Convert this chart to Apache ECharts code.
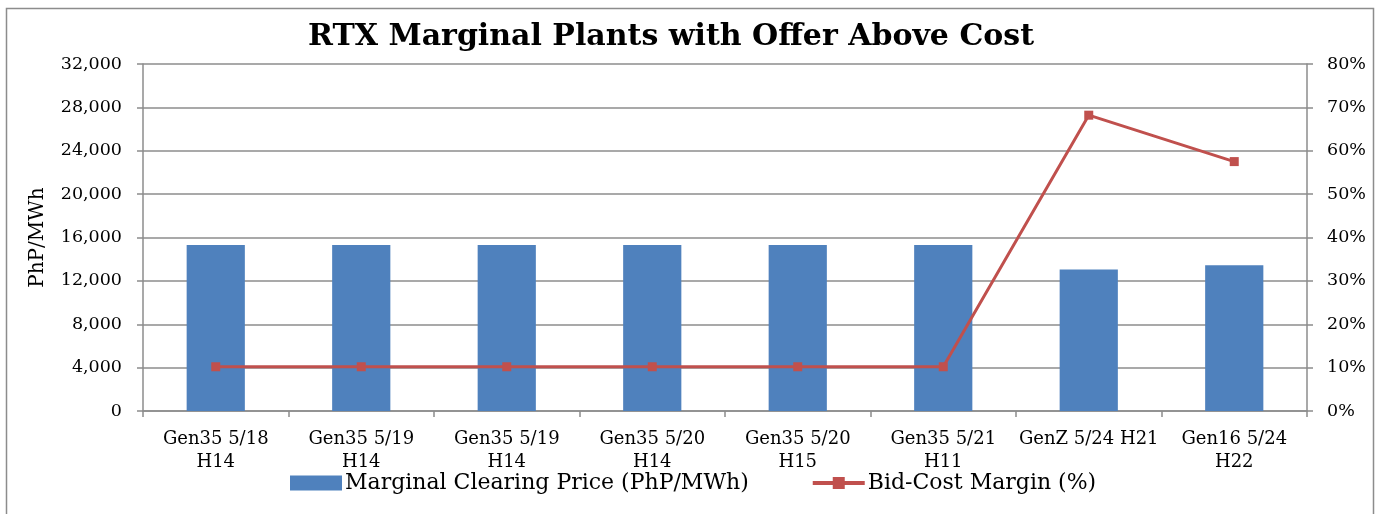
<!DOCTYPE html>
<html>
<head>
<meta charset="utf-8">
<script src="https://cdn.jsdelivr.net/npm/echarts@6/dist/echarts.min.js"></script>
<style>html,body{margin:0;padding:0;background:#fff}#c{width:1381px;height:514px}</style>
</head>
<body>
<div id="c"></div>
<script>
const categories = ['Gen35 5/18\nH14','Gen35 5/19\nH14','Gen35 5/19\nH14','Gen35 5/20\nH14','Gen35 5/20\nH15','Gen35 5/21\nH11','GenZ 5/24 H21','Gen16 5/24\nH22'];
const clearingPrice = [15300,15300,15300,15300,15300,15300,13050,13450];
const bidCostMargin = [10.2,10.2,10.2,10.2,10.2,10.2,68.2,57.5];
const leftTicks = [0,4000,8000,12000,16000,20000,24000,28000,32000];
const rightTicks = [0,10,20,30,40,50,60,70,80];

const FONT = 'DejaVu Serif';
const grayLine = '#8c8c8c';
const chart = echarts.init(document.getElementById('c'));
chart.setOption({
  animation:false,
  backgroundColor:'#fff',
  textStyle:{fontFamily:FONT,color:'#000'},
  graphic:[{type:'rect',shape:{x:6.5,y:8.5,width:1367,height:520},style:{fill:'none',stroke:grayLine,lineWidth:1.5},silent:true,z:-1}],
  title:{text:'RTX Marginal Plants with Offer Above Cost',left:666,textAlign:'center',top:17,
    textStyle:{fontFamily:FONT,fontWeight:'bold',fontSize:30,color:'#000'}},
  legend:{left:285,top:467,itemGap:62,itemWidth:52,itemHeight:15,
    textStyle:{fontFamily:FONT,fontSize:22,color:'#000',padding:[0,0,0,-2]},
    data:[{name:'Marginal Clearing Price (PhP/MWh)',icon:'rect'},
          {name:'Bid-Cost Margin (%)',lineStyle:{width:4},itemStyle:{}}]},
  grid:{left:143,right:74,top:64,bottom:103},
  xAxis:{type:'category',data:categories,boundaryGap:true,
    axisLine:{lineStyle:{color:grayLine,width:1.5}},
    axisTick:{show:true,length:6,lineStyle:{color:grayLine,width:1.5},alignWithLabel:false},
    axisLabel:{interval:0,fontFamily:FONT,fontSize:18,lineHeight:23,color:'#000',margin:17}},
  yAxis:[{type:'value',min:leftTicks[0],max:leftTicks[leftTicks.length-1],interval:4000,
      name:'PhP/MWh',nameLocation:'middle',nameGap:95,nameTextStyle:{fontFamily:FONT,fontSize:20,color:'#000'},
      axisLine:{show:true,lineStyle:{color:grayLine,width:1.5}},
      axisTick:{show:true,length:6,inside:false,lineStyle:{color:grayLine,width:1.5}},
      splitLine:{lineStyle:{color:grayLine,width:1.5}},
      axisLabel:{fontFamily:FONT,fontSize:17.5,color:'#000',margin:21,
        formatter:v=>v.toLocaleString('en-US')}},
    {type:'value',min:rightTicks[0],max:rightTicks[rightTicks.length-1],interval:10,position:'right',
      axisLine:{show:true,lineStyle:{color:grayLine,width:1.5}},
      axisTick:{show:true,length:6,lineStyle:{color:grayLine,width:1.5}},
      splitLine:{show:false},
      axisLabel:{fontFamily:FONT,fontSize:17.5,color:'#000',margin:20,formatter:v=>v+'%'}}],
  series:[
    {name:'Marginal Clearing Price (PhP/MWh)',type:'bar',data:clearingPrice,barWidth:'40%',
      itemStyle:{color:'#4F81BD'}},
    {name:'Bid-Cost Margin (%)',type:'line',yAxisIndex:1,data:bidCostMargin,
      symbol:'rect',symbolSize:9,lineStyle:{color:'#C0504D',width:3},itemStyle:{color:'#C0504D'}}
  ]
});
</script>
</body>
</html>
